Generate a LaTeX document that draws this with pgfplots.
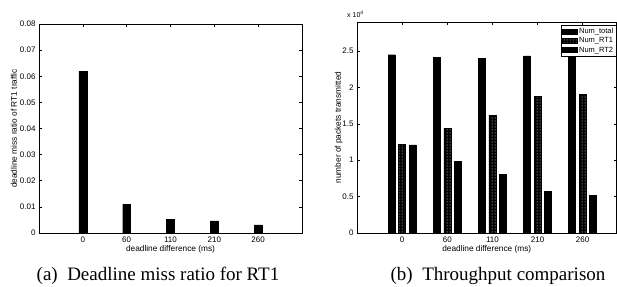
\documentclass[border=0pt]{standalone}
\usepackage{fontspec}
\setmainfont{Liberation Serif}
\setsansfont{Liberation Sans}
\usepackage{pgfplots}
\pgfplotsset{compat=1.18}
\usetikzlibrary{patterns}
\begin{document}
\begin{tikzpicture}
\useasboundingbox (0pt,0pt) rectangle (617pt,286pt);
\pgfplotsset{
  mystyle/.style={
    scale only axis,
    axis line style={line width=0.8pt},
    tick align=inside,
    tick style={black, line width=0.5pt},
    major tick length=3pt,
    tick label style={font=\sffamily\fontsize{8}{9}\selectfont},
    label style={font=\sffamily\fontsize{8.3}{9}\selectfont},
    xtick={1,2,3,4,5},
    xticklabels={0,60,110,210,260},
    xlabel={deadline difference (ms)},
    xlabel style={yshift=4pt},
    scaled y ticks=false,
    ymin=0,
  }
}
\begin{axis}[mystyle,
  at={(39pt,53pt)}, anchor=south west, width=263pt, height=209pt,
  xmin=0, xmax=6, ymax=0.08,
  ytick={0,0.01,0.02,0.03,0.04,0.05,0.06,0.07,0.08},
  yticklabels={0,0.01,0.02,0.03,0.04,0.05,0.06,0.07,0.08},
  ylabel={deadline miss ratio of RT1 traffic},
  ylabel shift=-4pt,
  ]
\addplot[ybar, bar width=0.18, fill=black, draw=black] coordinates {(1,0.062) (2,0.011) (3,0.0052) (4,0.0046) (5,0.0031)};
\end{axis}
\begin{axis}[mystyle,
  at={(357pt,53pt)}, anchor=south west, width=259.5pt, height=211pt,
  xmin=0, xmax=5.75, ymax=29000,
  ytick={0,5000,10000,15000,20000,25000},
  yticklabels={0,0.5,1,1.5,2,2.5},
  ylabel={number of packets transmitted},
  ylabel shift=-7pt,
  legend style={at={(1,1)}, anchor=north east, yshift=-3pt,
    font=\sffamily\fontsize{7.5}{8}\selectfont, draw=black, inner sep=1pt,
    row sep=-1.5pt, cells={anchor=west}},
  legend image code/.code={\draw[#1] (0pt,-2.5pt) rectangle (15pt,2.5pt);},
  ]
\addplot[ybar, bar width=0.155, bar shift=-0.232, fill=black, draw=black] coordinates {(1,24500) (2,24100) (3,24000) (4,24350) (5,24100)};
\addplot[ybar, bar width=0.155, bar shift=0, fill=black, draw=black, postaction={pattern=dots, pattern color=white}] coordinates {(1,12200) (2,14400) (3,16200) (4,18800) (5,19100)};
\addplot[ybar, bar width=0.155, bar shift=0.232, fill=black, draw=black] coordinates {(1,12100) (2,9800) (3,8100) (4,5750) (5,5200)};
\legend{Num\_total, Num\_RT1, Num\_RT2}
\end{axis}
\node[font=\sffamily\fontsize{7}{8}\selectfont, anchor=base west, inner sep=0pt] at (347pt,268pt) {x 10\textsuperscript{4}};
\node[font=\fontsize{19}{22}\selectfont, anchor=base, inner sep=0pt] at (158pt,6pt) {(a)\enspace Deadline miss ratio for RT1};
\node[font=\fontsize{19}{22}\selectfont, anchor=base, inner sep=0pt] at (498pt,6pt) {(b)\enspace Throughput comparison};
\end{tikzpicture}
\end{document}
